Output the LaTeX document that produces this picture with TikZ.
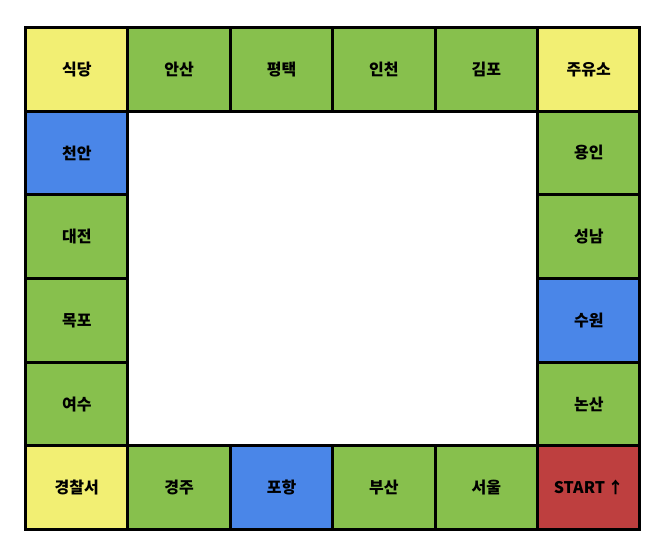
\documentclass[tikz,border=0pt]{standalone}
\usepackage{fontspec}
\setmainfont{Noto Sans CJK KR}
\usetikzlibrary{positioning}
\definecolor{cellyellow}{HTML}{F2EF73}
\definecolor{cellgreen}{HTML}{87C04D}
\definecolor{cellblue}{HTML}{4A86E8}
\definecolor{cellred}{HTML}{BE3F3F}
\tikzset{
  cell/.style={rectangle, draw=black, line width=3pt, minimum width=102.4pt, minimum height=83.7pt,
    inner sep=0pt, outer sep=0pt, fill=cellgreen, font=\fontsize{16}{19}\selectfont\bfseries},
  corner/.style={cell, fill=cellyellow},
  special/.style={cell, fill=cellblue},
  startcell/.style={cell, fill=cellred}
}

\begin{document}
\begin{tikzpicture}[x=1pt, y=1pt, node distance=0pt]
  \useasboundingbox (0,0) rectangle (666,-552);

  % Top row
  \node[corner] (restaurant) at (76.75,-69.25) {식당};
  \node[cell, right=of restaurant] (ansan) {안산};
  \node[cell, right=of ansan] (pyeongtaek) {평택};
  \node[cell, right=of pyeongtaek] (incheon) {인천};
  \node[cell, right=of incheon] (gimpo) {김포};
  \node[corner, right=of gimpo] (gasstation) {주유소};

  % Left column
  \node[special, below=of restaurant] (cheonan) {천안};
  \node[cell, below=of cheonan] (daejeon) {대전};
  \node[cell, below=of daejeon] (mokpo) {목포};
  \node[cell, below=of mokpo] (yeosu) {여수};

  % Right column
  \node[cell, below=of gasstation] (yongin) {용인};
  \node[cell, below=of yongin] (seongnam) {성남};
  \node[special, below=of seongnam] (suwon) {수원};
  \node[cell, below=of suwon] (nonsan) {논산};

  % Bottom row
  \node[corner, below=of yeosu] (police) {경찰서};
  \node[cell, right=of police] (gyeongju) {경주};
  \node[special, right=of gyeongju] (pohang) {포항};
  \node[cell, right=of pohang] (busan) {부산};
  \node[cell, right=of busan] (seoul) {서울};
  \node[startcell, right=of seoul] (start) {START\,↑};
\end{tikzpicture}
\end{document}
